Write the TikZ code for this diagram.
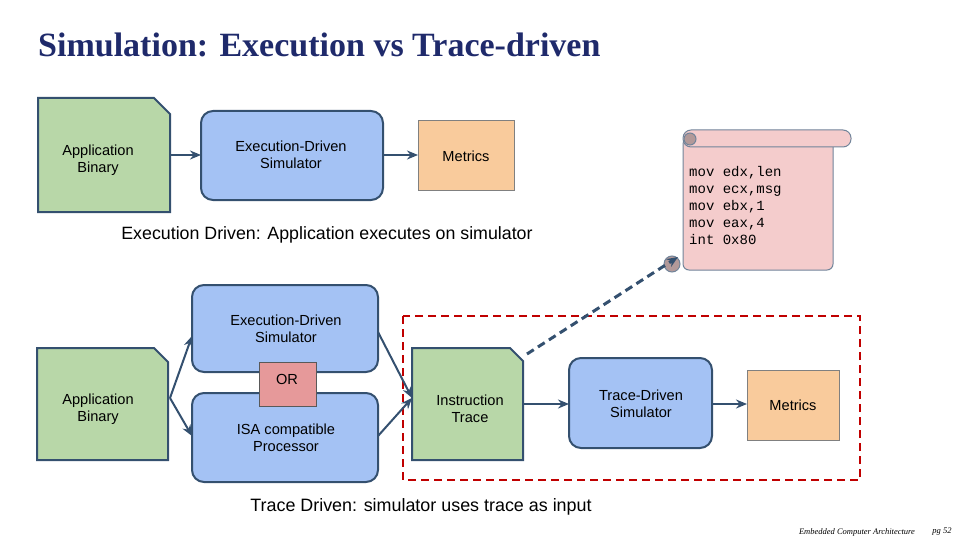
\documentclass[tikz,border=0pt]{standalone}
\usepackage{fontspec}
\setmainfont{Liberation Sans}
\newfontfamily\titlefont{Liberation Serif}
\newfontfamily\codefont{Liberation Mono}
\usetikzlibrary{arrows.meta}
\definecolor{edge}{HTML}{34506F}
\definecolor{gfill}{HTML}{B8D7A8}
\definecolor{bfill}{HTML}{A4C2F4}
\definecolor{ofill}{HTML}{F9CB9C}
\definecolor{pfill}{HTML}{F4CCCC}
\definecolor{rfill}{HTML}{E6999A}
\definecolor{dred}{HTML}{C00000}
\definecolor{titleblue}{HTML}{1F2A6B}
\tikzset{
 sim/.style={draw=edge,line width=2pt,fill=bfill,rounded corners=12pt},
 met/.style={draw=gray,line width=1pt,fill=ofill},
 lbl/.style={font=\fontsize{14.6}{17}\selectfont,align=center},
 arr/.style={-{Stealth[length=11pt,width=9pt]},draw=edge,line width=2pt},
 doc/.style={draw=edge,line width=2pt,fill=gfill}
}
\begin{document}
\begin{tikzpicture}[x=1pt,y=-1pt]
\useasboundingbox (0,0) rectangle (960,540);
\node[anchor=west,inner sep=0pt,font=\titlefont\bfseries\fontsize{34}{36}\selectfont,text=titleblue] (title) at (38,45) {Simulation: Execution vs Trace-driven};
% top row
\draw[doc] (38,98) -- (154,98) -- (170,114) -- (170,212) -- (38,212) -- cycle;
\node[lbl] (app1) at (98,160) {Application\\Binary};
\draw[sim] (201,111) rectangle (383,200);
\node[lbl] (sim1) at (291,155) {Execution-Driven\\Simulator};
\draw[met] (418,121) rectangle (514,190);
\node[lbl] (met1) at (466,156) {Metrics};
\coordinate (a1s) at (170,155); \coordinate (a1e) at (201,155);
\draw[arr] (a1s) -- (a1e);
\coordinate (a2s) at (383,155); \coordinate (a2e) at (418,155);
\draw[arr] (a2s) -- (a2e);
\node[font=\fontsize{17.8}{20}\selectfont] (exectext) at (327,235) {Execution Driven: Application executes on simulator};
% scroll
\draw[draw=edge!70,line width=1pt,fill=pfill,rounded corners=6pt] (683,138) -- (833,138) -- (833,270) -- (683,270) -- cycle;
\draw[draw=edge!70,line width=1pt,fill=pfill,rounded corners=8pt] (683,130) rectangle (851,147);
\draw[draw=edge!70,fill=gray!60!pink,line width=1pt] (690,139) circle (6);
\draw[draw=edge!70,fill=gray!60!pink,line width=1pt] (672,264) circle (8);
\node[font=\codefont\fontsize{14}{17}\selectfont,align=left,anchor=north west,inner sep=0pt] (code) at (689,166) {mov edx,len\\mov ecx,msg\\mov ebx,1\\mov eax,4\\int 0x80};
\coordinate (scrollend) at (678,257);
% bottom
\draw[dred,line width=2.5pt,dash pattern=on 8pt off 5pt] (403,316) rectangle (860,480);
\draw[doc] (37,348) -- (154,348) -- (168,362) -- (168,460) -- (37,460) -- cycle;
\node[lbl] (app2) at (98,409) {Application\\Binary};
\draw[sim] (192,285) rectangle (378,372);
\node[lbl] (sim2) at (286,329) {Execution-Driven\\Simulator};
\draw[sim] (192,393) rectangle (378,482);
\node[lbl] (isa) at (286,438) {ISA compatible\\Processor};
\draw[draw=gray!70!black,line width=1pt,fill=rfill] (259,362) rectangle (316,406);
\node[lbl] (or) at (287,379) {OR};
\draw[doc] (412,348) -- (510,348) -- (523,361) -- (523,460) -- (412,460) -- cycle;
\node[lbl] (trace) at (470,409) {Instruction\\Trace};
\draw[sim] (569,358) rectangle (712,448);
\node[lbl] (tsim) at (641,404) {Trace-Driven\\Simulator};
\draw[met] (747,370) rectangle (839,440);
\node[lbl] (met2) at (793,405) {Metrics};
\draw[arr] (170,398) -- (192,336);
\draw[arr] (170,398) -- (192,436);
\draw[arr] (378,332) -- (412,398);
\draw[arr] (378,436) -- (412,398);
\draw[arr] (523,404) -- (569,404);
\draw[arr] (712,404) -- (747,404);
\draw[arr,line width=3pt,dash pattern=on 8pt off 5pt] (527,354) -- (scrollend);
\node[font=\fontsize{17.9}{20}\selectfont] (tracetext) at (421,507) {Trace Driven: simulator uses trace as input};
\node[font=\titlefont\itshape\fontsize{8.5}{9}\selectfont] (foot) at (857,532) {Embedded Computer Architecture};
\node[font=\titlefont\itshape\fontsize{8.5}{9}\selectfont] (pg) at (942,532) {pg 52};
\end{tikzpicture}
\end{document}
